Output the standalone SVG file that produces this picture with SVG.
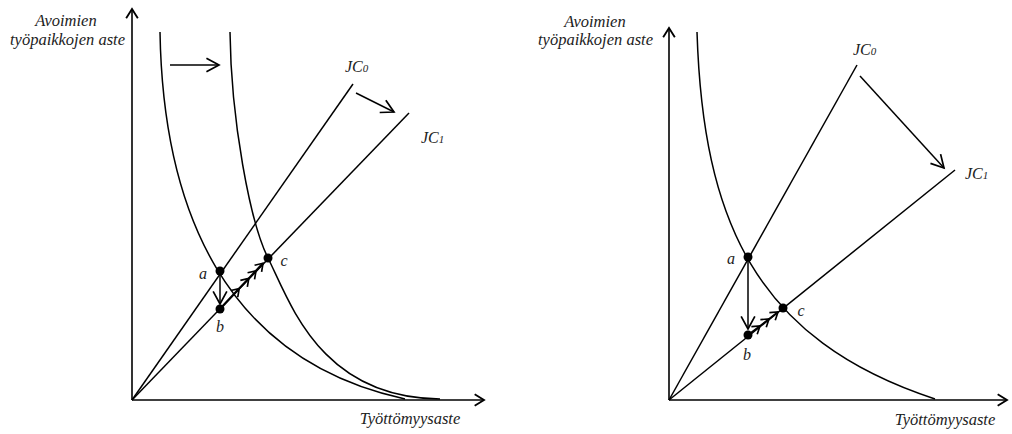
<svg xmlns="http://www.w3.org/2000/svg" width="1012" height="434" viewBox="0 0 1012 434">
<style>
.ln{fill:none;stroke:#000;stroke-width:1.5}
.ax{fill:none;stroke:#000;stroke-width:1.6}
.t{font-family:"Liberation Serif","DejaVu Serif",serif;font-style:italic;font-size:16.5px;fill:#222}
.lb{font-family:"Liberation Serif","DejaVu Serif",serif;font-style:italic;font-size:16px;fill:#222}
.sub{font-size:11px}
.dot{fill:#000}
</style>
<defs>
<marker id="axh" markerUnits="userSpaceOnUse" markerWidth="14" markerHeight="14" refX="9" refY="6" orient="auto" viewBox="0 0 12 12">
<path d="M1,1 L9,6 L1,11" fill="none" stroke="#000" stroke-width="1.6"/>
</marker>
<marker id="big" markerUnits="userSpaceOnUse" markerWidth="16" markerHeight="16" refX="12" refY="7" orient="auto" viewBox="0 0 14 14">
<path d="M1,1 L12,7 L1,13" fill="none" stroke="#000" stroke-width="1.5"/>
</marker>
<marker id="chev" markerUnits="userSpaceOnUse" markerWidth="12" markerHeight="12" refX="7" refY="5" orient="auto" viewBox="0 0 10 10">
<path d="M1,1 L7,5 L1,9" fill="none" stroke="#000" stroke-width="1.4"/>
</marker>
</defs>

<!-- LEFT FIGURE -->
<g id="left-axes">
<path class="ax" d="M132,400 L132,9" marker-end="url(#axh)"/>
<path class="ax" d="M132,400 L484,400" marker-end="url(#axh)"/>
<text class="t" x="66" y="26" text-anchor="middle">Avoimien</text>
<text class="t" x="125" y="45" text-anchor="end">työpaikkojen aste</text>
<text class="t" x="410" y="424" text-anchor="middle">Työttömyysaste</text>
</g>
<g id="left-curves">
<path class="ln" d="M160,32 C163,210 225,360 405,399"/>
<path class="ln" d="M230,32 C231,120 250,222 268,258 C290,302 320,398 440,399"/>
</g>
<g id="left-jc">
<path class="ln" d="M132,400 L353,84"/>
<path class="ln" d="M132,400 L409,113"/>
<text class="lb" x="345" y="72">JC<tspan class="sub">0</tspan></text>
<text class="lb" x="421" y="143">JC<tspan class="sub">1</tspan></text>
</g>
<g id="left-connectors">
<path class="ln" d="M170,65 L219,65" marker-end="url(#big)"/>
<path class="ln" d="M356,93 L394,112" marker-end="url(#big)"/>
<path class="ln" d="M220,272 L220,304" marker-end="url(#big)"/>
<path class="ln" style="stroke-width:2.2" d="M220,309 L239.2,288.6 L248.8,278.4 L256,270.8 L263,263.3" marker-mid="url(#chev)" marker-end="url(#chev)"/>
</g>
<g id="left-points">
<circle class="dot" cx="220" cy="271" r="4.5"/>
<circle class="dot" cx="220" cy="309" r="4.5"/>
<circle class="dot" cx="268" cy="258" r="4.5"/>
<text class="lb" x="203" y="279" text-anchor="middle">a</text>
<text class="lb" x="220" y="332" text-anchor="middle">b</text>
<text class="lb" x="284" y="266" text-anchor="middle">c</text>
</g>

<!-- RIGHT FIGURE -->
<g id="right-axes">
<path class="ax" d="M669,400 L669,28" marker-end="url(#axh)"/>
<path class="ax" d="M669,400 L1007,400" marker-end="url(#axh)"/>
<text class="t" x="595" y="27" text-anchor="middle">Avoimien</text>
<text class="t" x="653" y="45" text-anchor="end">työpaikkojen aste</text>
<text class="t" x="945" y="425" text-anchor="middle">Työttömyysaste</text>
</g>
<g id="right-curve">
<path class="ln" d="M697,32 C703,220 755,340 935,399"/>
</g>
<g id="right-jc">
<path class="ln" d="M669,400 L857,65"/>
<path class="ln" d="M669,400 L955,170"/>
<text class="lb" x="853" y="55">JC<tspan class="sub">0</tspan></text>
<text class="lb" x="965" y="179">JC<tspan class="sub">1</tspan></text>
</g>
<g id="right-connectors">
<path class="ln" d="M860,76 L944,168" marker-end="url(#big)"/>
<path class="ln" d="M748,258 L748,329" marker-end="url(#big)"/>
<path class="ln" style="stroke-width:1.8" d="M748,335 L760,326 L769,319 L778,312" marker-mid="url(#chev)" marker-end="url(#chev)"/>
</g>
<g id="right-points">
<circle class="dot" cx="748" cy="257" r="4.5"/>
<circle class="dot" cx="748" cy="335" r="4.5"/>
<circle class="dot" cx="783" cy="308" r="4.5"/>
<text class="lb" x="731" y="264" text-anchor="middle">a</text>
<text class="lb" x="747" y="360" text-anchor="middle">b</text>
<text class="lb" x="801" y="316" text-anchor="middle">c</text>
</g>
</svg>
